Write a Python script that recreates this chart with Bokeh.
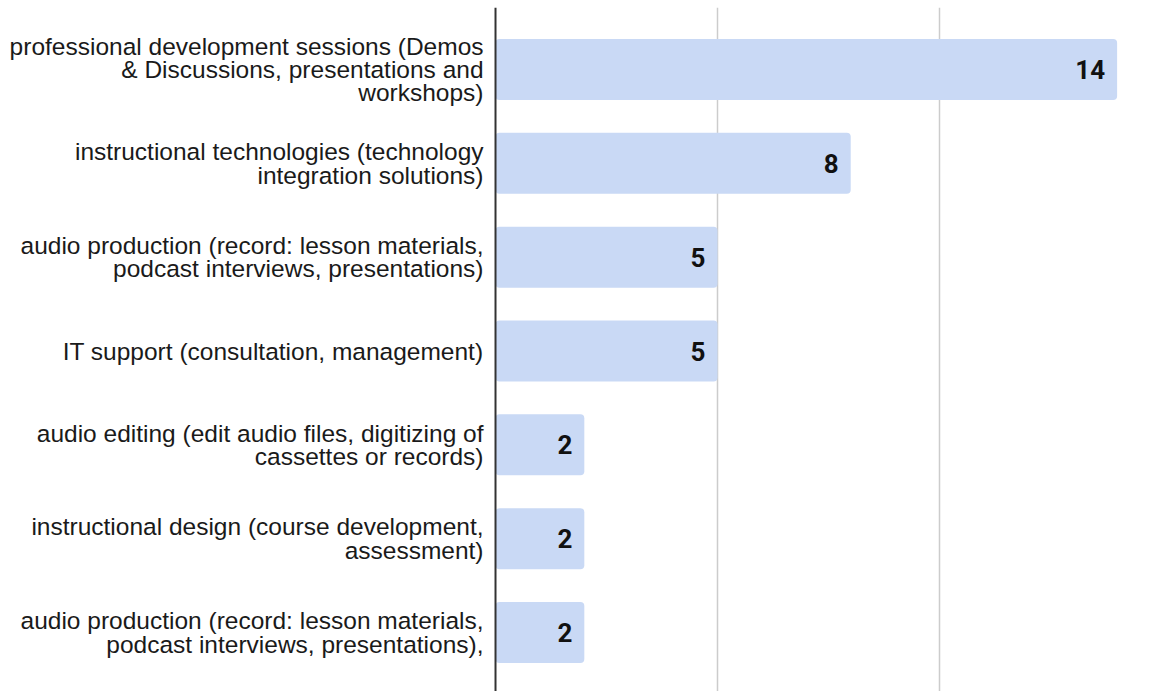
from bokeh.plotting import figure
from bokeh.models import ColumnDataSource, Span, FixedTicker
from bokeh.core.properties import value
from bokeh.embed import file_html
from bokeh.resources import INLINE

categories = [
    "professional development sessions (Demos\n& Discussions, presentations and\nworkshops)",
    "instructional technologies (technology\nintegration solutions)",
    "audio production (record: lesson materials,\npodcast interviews, presentations)",
    "IT support (consultation, management)",
    "audio editing (edit audio files, digitizing of\ncassettes or records)",
    "instructional design (course development,\nassessment)",
    "audio production (record: lesson materials,\npodcast interviews, presentations),",
]
counts = [14, 8, 5, 5, 2, 2, 2]

n = len(categories)
ypos = [n - 1 - i for i in range(n)]
src = ColumnDataSource(dict(y=ypos, v=counts, cat=categories,
                            lbl=[str(c) for c in counts], zero=[0] * n))

p = figure(width=1154, height=691, output_backend="svg", toolbar_location=None,
           x_range=(-11.149, 14.842), y_range=(-0.629, 6.661),
           min_border_left=0, min_border_right=0, min_border_top=7, min_border_bottom=0)
p.outline_line_color = None
p.xaxis.visible = False
p.yaxis.visible = False
p.ygrid.visible = False
p.xgrid.ticker = FixedTicker(ticks=[5, 10, 15])
p.xgrid.grid_line_color = "#cccccc"
p.xgrid.grid_line_width = 1.5

p.hbar(y="y", left=0, right="v", height=0.65, source=src,
       fill_color="#c9d9f5", line_color=None, border_radius=4)

p.add_layout(Span(location=0, dimension="height", line_color="#333333", line_width=2))

p.text(x="zero", y="y", text="cat", source=src, x_offset=-12,
       text_align="right", text_baseline="middle",
       text_font=value("Liberation Sans"), text_font_size="24.5px",
       text_color="#1a1a1a", text_line_height=0.87)

p.text(x="v", y="y", text="lbl", source=src, x_offset=-12,
       text_align="right", text_baseline="middle",
       text_font=value("Roboto"), text_font_style="bold", text_font_size="26px",
       text_color="#111111")

open("out.html", "w").write(file_html(p, INLINE))
